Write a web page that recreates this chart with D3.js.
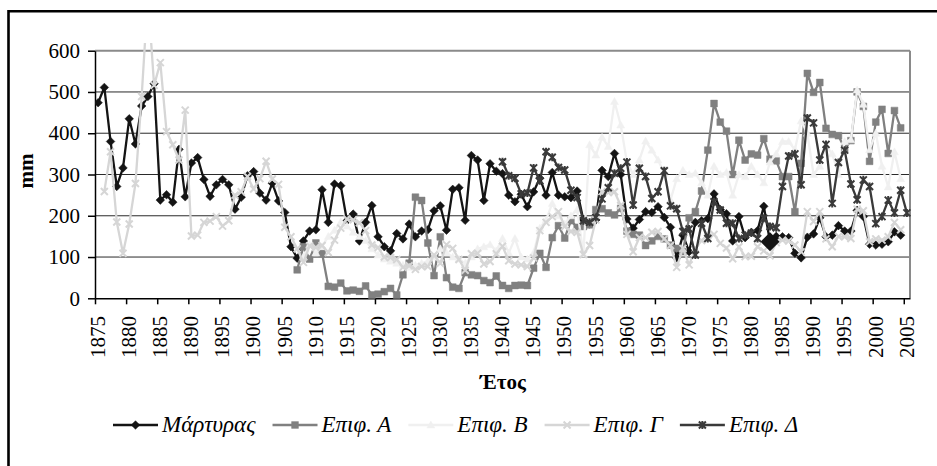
<!DOCTYPE html>
<html>
<head>
<meta charset="utf-8">
<script src="https://cdn.jsdelivr.net/npm/d3@7"></script>
<style>
body{margin:0;background:#fff;}
svg text{font-family:"Liberation Serif","Times New Roman",serif;fill:#000;}
</style>
</head>
<body>
<svg id="chart" width="937" height="466"></svg>
<script>
// categories
var startYear = 1875, endYear = 2005;
var tickYears = [1875,1880,1885,1890,1895,1900,1905,1910,1915,1920,1925,1930,1935,1940,1945,1950,1955,1960,1965,1970,1975,1980,1985,1990,1995,2000,2005];
var yTicks = [0,100,200,300,400,500,600];
var seriesNames = ["Μάρτυρας", "Επιφ. Α", "Επιφ. Β", "Επιφ. Γ", "Επιφ. Δ"];
var bigMarkerYears = [1983];

// mm per year, 1875..2005 (null = no measurement)
var martyras = [474,511,380,271,316,435,374,466,489,520,
	238,251,233,361,246,328,341,288,247,275,
	288,275,216,245,297,307,255,238,279,236,
	208,125,97,139,163,166,263,184,277,273,
	188,204,139,184,225,149,125,115,157,144,
	180,149,163,166,212,224,165,264,268,189,
	346,335,237,326,308,302,250,234,252,222,
	258,291,250,305,250,246,244,260,190,180,
	190,310,295,351,300,192,170,191,210,208,
	222,196,172,98,153,113,184,188,193,253,
	215,205,139,198,147,160,164,223,137,150,
	149,147,109,98,148,156,195,149,153,176,
	163,163,213,198,131,129,131,137,161,153,
	null];

var epifA = [null,null,null,null,null,null,null,null,null,null,
	null,null,null,null,null,null,null,null,null,null,
	null,null,null,null,null,null,null,null,null,null,
	null,null,69,125,95,134,109,29,27,37,
	18,20,17,30,8,10,16,24,8,57,
	85,245,237,134,55,149,50,27,24,62,
	57,55,43,38,54,31,24,31,32,31,
	73,109,75,147,176,146,188,172,174,178,
	215,217,207,202,218,163,155,153,128,139,
	150,144,129,121,113,195,210,260,359,472,
	427,405,300,383,335,350,347,387,337,333,
	295,295,210,327,545,499,523,412,397,394,
	363,382,500,465,332,427,458,351,455,413,
	null];

var epifB = [null,null,null,null,null,null,null,null,null,null,
	null,null,null,null,null,null,null,null,null,null,
	null,null,null,null,null,null,null,null,null,null,
	null,null,null,100,130,110,125,150,165,185,
	175,160,150,140,120,105,95,90,85,80,
	75,80,85,90,100,120,110,100,95,85,
	100,120,125,130,115,145,110,145,100,95,
	110,170,190,230,200,180,200,215,107,372,
	347,390,368,477,420,330,300,335,381,359,
	335,303,238,290,310,300,303,280,250,320,
	300,305,250,300,295,320,300,280,330,350,
	380,380,360,430,400,300,320,370,350,300,
	380,384,505,470,360,400,320,270,355,290,
	null];

var epifG = [null,259,355,185,109,180,278,489,735,516,
	571,404,372,335,456,151,153,184,187,198,
	175,188,250,258,295,265,290,332,289,276,
	172,149,120,87,127,123,128,111,141,170,
	192,190,183,164,129,123,100,99,94,75,
	79,70,77,77,105,85,130,121,94,68,
	108,109,83,89,108,126,91,83,81,77,
	98,164,184,198,210,174,162,160,106,128,
	190,258,256,258,225,155,113,147,147,160,
	162,144,128,75,121,81,121,140,153,155,
	133,122,96,125,101,102,125,115,103,135,
	141,139,129,113,210,186,210,144,125,150,
	149,145,216,212,137,144,141,149,184,166,
	null];

var epifD = [null,null,null,null,null,null,null,null,null,null,
	null,null,null,null,null,null,null,null,null,null,
	null,null,null,null,null,null,null,null,null,null,
	null,null,null,null,null,null,null,null,null,null,
	null,null,null,null,null,null,null,null,null,null,
	null,null,null,null,null,null,null,null,null,null,
	null,null,null,null,null,331,297,291,253,255,
	316,285,355,342,317,311,262,244,188,184,
	196,241,268,303,315,330,226,315,295,242,
	258,309,224,217,162,168,105,182,145,234,
	214,182,182,145,153,158,145,194,174,171,
	271,345,350,275,437,425,335,373,230,329,
	359,277,239,287,271,181,198,238,207,262,
	207];

var seriesValues = [martyras, epifA, epifB, epifG, epifD];
var seriesColors = ["#141414", "#808080", "#f0f0f0", "#d6d6d6", "#3a3a3a"];
var seriesMarkers = ["diamond", "square", "triangle", "cross", "star"];

function markerPath(type, k){
	k = k || 1;
	var r;
	if(type == "diamond"){ r = 4.3*k; return "M0," + (-r) + "L" + r + ",0L0," + r + "L" + (-r) + ",0Z"; }
	if(type == "square"){ r = 3.4*k; return "M" + (-r) + "," + (-r) + "h" + 2*r + "v" + 2*r + "h" + (-2*r) + "Z"; }
	if(type == "triangle"){ r = 4*k; return "M0," + (-r) + "L" + r + "," + (r*0.75) + "L" + (-r) + "," + (r*0.75) + "Z"; }
	r = 3.5*k;
	var p = "M" + (-r) + "," + (-r) + "L" + r + "," + r + "M" + (-r) + "," + r + "L" + r + "," + (-r);
	if(type == "star") p += "M0," + (-r-0.5) + "V" + (r+0.5);
	return p;
}
function isFilled(type){ return type == "diamond" || type == "square" || type == "triangle"; }

var svg = d3.select("#chart");
var years = d3.range(startYear, endYear + 1);

var plot = {left: 95, right: 910, top: 50.7, bottom: 298.3};
var x = d3.scaleLinear().domain([startYear, endYear + 1]).range([plot.left, plot.right]);
var y = d3.scaleLinear().domain([0, 600]).range([plot.bottom, plot.top]);
function cx(year){ return x(year + 0.5); }

// outer frame (only top and left visible in the crop)
svg.append("path")
	.attr("d", "M8.5,470V11.2H940")
	.attr("fill", "none")
	.attr("stroke", "#000")
	.attr("stroke-width", 2.6);

// gridlines
svg.selectAll(".grid")
	.data(yTicks.filter(function(d){ return d > 0; }))
	.enter().append("line")
	.attr("class", "grid")
	.attr("x1", plot.left).attr("x2", plot.right)
	.attr("y1", function(d){ return y(d); }).attr("y2", function(d){ return y(d); })
	.attr("stroke", function(d){ return d == 600 ? "#8a8a8a" : "#2a2a2a"; })
	.attr("stroke-width", function(d){ return d == 600 ? 2 : 1; });

svg.append("line")
	.attr("x1", plot.right).attr("x2", plot.right)
	.attr("y1", plot.top).attr("y2", plot.bottom)
	.attr("stroke", "#8a8a8a").attr("stroke-width", 2);

// y axis
var yAxis = svg.append("g")
	.attr("transform", "translate(" + plot.left + ",0)")
	.call(d3.axisLeft(y).tickValues(yTicks).tickSize(7).tickSizeOuter(0).tickPadding(8));
yAxis.attr("font-family", "Liberation Serif");
yAxis.selectAll("path,line").attr("stroke", "#000").attr("stroke-width", 1.5);
yAxis.selectAll("text").attr("font-size", "21px");

// x axis
var xAxis = svg.append("g")
	.attr("transform", "translate(0," + plot.bottom + ")")
	.call(d3.axisBottom(x).tickValues(tickYears).tickSize(6).tickSizeOuter(0).tickFormat(""));
xAxis.selectAll("path,line").attr("stroke", "#000").attr("stroke-width", 1.5);

svg.selectAll(".xlabel")
	.data(tickYears)
	.enter().append("text")
	.attr("class", "xlabel")
	.attr("transform", function(d){ return "translate(" + (x(d) + 2.5) + ",316) rotate(-90)"; })
	.attr("text-anchor", "end")
	.attr("dy", "0.35em")
	.attr("font-size", "21px")
	.text(function(d){ return d; });

// axis titles
svg.append("text")
	.attr("transform", "translate(33,171) rotate(-90)")
	.attr("text-anchor", "middle")
	.attr("font-size", "21px")
	.attr("font-weight", "bold")
	.text("mm");

svg.append("text")
	.attr("x", 503).attr("y", 389)
	.attr("text-anchor", "middle")
	.attr("font-size", "21px")
	.attr("font-weight", "bold")
	.text("Έτος");

// series
svg.append("clipPath").attr("id", "plotclip")
	.append("rect").attr("x", plot.left).attr("y", 43).attr("width", plot.right - plot.left + 4).attr("height", plot.bottom - 43 + 4);

var line = d3.line()
	.defined(function(d){ return d.v !== null; })
	.x(function(d){ return cx(d.year); })
	.y(function(d){ return y(d.v); });

var layer = svg.append("g").attr("clip-path", "url(#plotclip)");

seriesValues.forEach(function(values, s){
	var data = years.map(function(yr, i){ return {year: yr, v: values[i]}; });
	var g = layer.append("g");
	g.append("path")
		.datum(data)
		.attr("d", line)
		.attr("fill", "none")
		.attr("stroke", seriesColors[s])
		.attr("stroke-width", 2.3)
		.attr("stroke-linejoin", "round");
	var type = seriesMarkers[s];
	g.selectAll(".mk")
		.data(data.filter(function(d){ return d.v !== null; }))
		.enter().append("path")
		.attr("class", "mk")
		.attr("transform", function(d){ return "translate(" + cx(d.year) + "," + y(d.v) + ")"; })
		.attr("d", markerPath(type, 1))
		.attr("fill", isFilled(type) ? seriesColors[s] : "none")
		.attr("stroke", seriesColors[s])
		.attr("stroke-width", isFilled(type) ? 0.5 : 2);
});

// big marker drawn on top
layer.selectAll(".big")
	.data(bigMarkerYears)
	.enter().append("path")
	.attr("class", "big")
	.attr("transform", function(d){ return "translate(" + cx(d) + "," + y(martyras[d - startYear]) + ")"; })
	.attr("d", markerPath("diamond", 2.2))
	.attr("fill", seriesColors[0]);

// legend
var legendY = 425;
var lx = 113;
seriesNames.forEach(function(name, s){
	var type = seriesMarkers[s];
	svg.append("line")
		.attr("x1", lx).attr("x2", lx + 45)
		.attr("y1", legendY).attr("y2", legendY)
		.attr("stroke", seriesColors[s]).attr("stroke-width", 2.3);
	svg.append("path")
		.attr("transform", "translate(" + (lx + 22.5) + "," + legendY + ")")
		.attr("d", markerPath(type, 1))
		.attr("fill", isFilled(type) ? seriesColors[s] : "none")
		.attr("stroke", seriesColors[s])
		.attr("stroke-width", isFilled(type) ? 0.5 : 2);
	var t = svg.append("text")
		.attr("x", lx + 49).attr("y", legendY + 7)
		.attr("font-size", "23px")
		.attr("font-style", "italic")
		.text(name);
	lx = lx + 49 + t.node().getComputedTextLength() + 17;
});
</script>
</body>
</html>
